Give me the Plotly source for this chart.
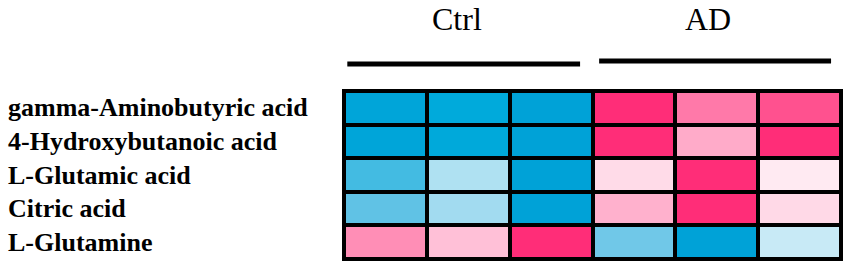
import plotly.graph_objects as go

# ---- data ----
metabolites = ["gamma-Aminobutyric acid", "4-Hydroxybutanoic acid",
               "L-Glutamic acid", "Citric acid", "L-Glutamine"]
samples = ["Ctrl-1", "Ctrl-2", "Ctrl-3", "AD-1", "AD-2", "AD-3"]
groups = ["Ctrl", "AD"]
group_members = [[0, 1, 2], [3, 4, 5]]

# relative abundance (z-score like, -1 = low / blue, +1 = high / pink)
gaba      = [-0.95, -0.88, -1.00, 1.00, 0.64, 0.83]
hba       = [-0.95, -0.90, -1.00, 1.00, 0.40, 1.00]
glutamic  = [-0.66, -0.29, -1.00, 0.17, 1.00, 0.10]
citric    = [-0.58, -0.34, -1.00, 0.37, 1.00, 0.18]
glutamine = [0.54, 0.30, 1.00, -0.52, -1.00, -0.20]
z = [gaba, hba, glutamic, citric, glutamine]

W, H = 851, 267
x0, x1 = 344, 841   # plot area (px)
y0, y1 = 91, 259

fig = go.Figure()
fig.add_trace(go.Heatmap(
    z=z,
    x=list(range(len(samples))),
    y=list(range(len(metabolites))),
    zmin=-1, zmax=1,
    colorscale=[[0.0, "rgb(0,162,215)"], [0.08, "rgb(0,173,220)"],
                [0.2, "rgb(90,192,228)"],
                [0.5, "rgb(255,255,255)"],
                [1.0, "rgb(255,45,120)"]],
    showscale=False, xgap=4, ygap=4, hoverinfo="skip",
))

fig.update_layout(
    width=W, height=H,
    margin=dict(l=0, r=0, t=0, b=0),
    paper_bgcolor="white", plot_bgcolor="black",
    xaxis=dict(domain=[x0 / W, x1 / W], range=[-0.5, len(samples) - 0.5],
               showticklabels=False, showgrid=False, zeroline=False, ticks=""),
    yaxis=dict(domain=[1 - y1 / H, 1 - y0 / H], range=[len(metabolites) - 0.5, -0.5],
               showticklabels=False, showgrid=False, zeroline=False, ticks=""),
    showlegend=False,
)

# outer frame
fig.add_shape(type="rect", xref="x domain", yref="y domain", x0=0, x1=1, y0=0, y1=1,
              line=dict(color="black", width=4), fillcolor="rgba(0,0,0,0)")

# row labels
for i, name in enumerate(metabolites):
    fig.add_annotation(text=name, xref="paper", x=6 / W, xanchor="left",
                       yref="y", y=i, yanchor="middle", showarrow=False,
                       font=dict(family="Liberation Serif", size=26, color="black",
                                 weight="bold"))

# group headers and bars
line_offsets = [(-0.46, -0.15), (-0.42, -0.12)]
line_y = [1 - 64 / H, 1 - 61 / H]
for g, members, (lo, hi), ly in zip(groups, group_members, line_offsets, line_y):
    xs, xe = members[0] + lo, members[-1] + 0.5 + hi
    fig.add_shape(type="line", xref="x", yref="paper", x0=xs, x1=xe, y0=ly, y1=ly,
                  line=dict(color="black", width=5))
    fig.add_annotation(text=g, xref="x", x=(xs + xe) / 2 - 0.08, xanchor="center",
                       yref="paper", y=1 - 19 / H, yanchor="middle", showarrow=False,
                       font=dict(family="Liberation Serif", size=32, color="black"))

fig.write_html("out.html", config={"displayModeBar": False},
               post_script="document.body.style.margin='0';document.body.style.overflow='hidden';")
